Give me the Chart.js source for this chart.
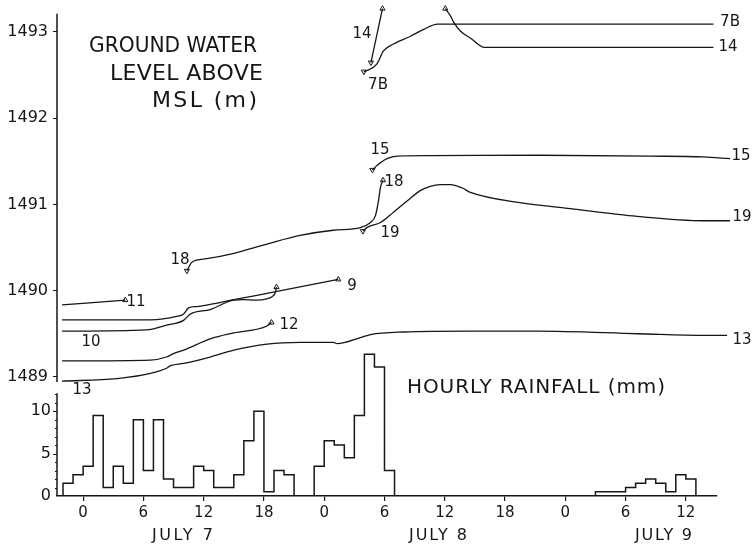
<!DOCTYPE html>
<html>
<head>
<meta charset="utf-8">
<script src="https://cdn.jsdelivr.net/npm/chart.js@4.4.0/dist/chart.umd.min.js"></script>
<style>
  html, body { margin: 0; padding: 0; background: #fff; }
</style>
</head>
<body>
<canvas id="chart" width="756" height="547"></canvas>
<script>
// hours are counted from 00:00 on July 7
const hourTicks = [0, 6, 12, 18, 24, 30, 36, 42, 48, 54, 60];
const hourLabels = ['0', '6', '12', '18', '0', '6', '12', '18', '0', '6', '12'];
const dayLabels = ['JULY 7', 'JULY 8', 'JULY 9'];
const levelTicks = [1489, 1490, 1491, 1492, 1493];
const rainTicks = [0, 5, 10];

// hourly rainfall (mm), first bin starts at hour -2
const rainStart = -2;
const rainfall = [
  1.5, 2.5, 3.5, 9.5, 1.0, 3.5, 1.5, 9.0, 3.0, 9.0, 2.0, 1.0, 1.0, 3.5, 3.0, 1.0, 1.0, 2.5, 6.5, 10.0, 0.5, 3.0, 2.5,
  0, 0,
  3.5, 6.5, 6.0, 4.5, 9.5, 16.7, 15.2, 3.0,
  0, 0, 0, 0, 0, 0, 0, 0, 0, 0, 0, 0, 0, 0, 0, 0, 0, 0, 0, 0,
  0.5, 0.5, 0.5, 1.0, 1.5, 2.0, 1.5, 0.5, 2.5, 2.0
];

// ground water level per well: [hour, m above MSL]
const well7B = [[27.95, 1492.54], [28.6, 1492.57], [29.25, 1492.63], [29.9, 1492.78], [30.9, 1492.86], [32.6, 1492.95], [33.9, 1493.03], [35.3, 1493.09], [62.75, 1493.09]];
const well14a = [[28.65, 1492.645], [29.8, 1493.27]];
const well14b = [[36.05, 1493.27], [36.55, 1493.19], [36.9, 1493.11], [37.55, 1493.01], [38.55, 1492.93], [39.95, 1492.82], [62.75, 1492.82]];
const well15 = [[28.8, 1491.40], [29.25, 1491.45], [30.25, 1491.53], [31.25, 1491.56], [34.6, 1491.565], [45.5, 1491.57], [56.5, 1491.56], [61.75, 1491.55], [64.4, 1491.53]];
const well18 = [[10.33, 1490.23], [10.83, 1490.33], [12.3, 1490.37], [14.9, 1490.43], [18.3, 1490.54], [21.6, 1490.64], [24.9, 1490.70], [27.6, 1490.73], [28.6, 1490.79], [29.1, 1490.87], [29.4, 1491.04], [29.6, 1491.20], [29.85, 1491.28]];
const well19 = [[27.85, 1490.69], [28.25, 1490.73], [29.6, 1490.79], [30.9, 1490.91], [32.25, 1491.04], [33.55, 1491.16], [34.55, 1491.21], [35.55, 1491.23], [36.55, 1491.23], [37.75, 1491.19], [38.55, 1491.14], [43.5, 1491.02], [48.5, 1490.95], [55.15, 1490.86], [61.8, 1490.81], [64.4, 1490.81]];
const well11 = [[-2.1, 1489.835], [4.2, 1489.89]];
const well9 = [[-2.1, 1489.66], [6.7, 1489.66], [9.3, 1489.70], [10.0, 1489.73], [10.5, 1489.80], [11.3, 1489.815], [12.65, 1489.84], [15.0, 1489.895], [19.3, 1489.99], [25.4, 1490.13]];
const well10 = [[-2.1, 1489.53], [6.3, 1489.545], [8.3, 1489.60], [10.0, 1489.655], [10.7, 1489.73], [12.65, 1489.78], [15.0, 1489.89], [16.0, 1489.895], [17.2, 1489.89], [18.3, 1489.905], [18.8, 1489.93], [19.1, 1489.97], [19.25, 1490.04]];
const well12 = [[-2.1, 1489.185], [6.7, 1489.195], [8.3, 1489.23], [9.0, 1489.27], [10.0, 1489.31], [12.65, 1489.44], [15.0, 1489.51], [18.3, 1489.59], [18.75, 1489.63]];
const well13 = [[-2.1, 1488.95], [3.4, 1488.98], [6.7, 1489.04], [8.3, 1489.10], [8.7, 1489.13], [10.0, 1489.155], [12.65, 1489.23], [15.0, 1489.31], [18.3, 1489.38], [21.6, 1489.40], [24.9, 1489.40], [25.3, 1489.385], [27.6, 1489.455], [28.6, 1489.49], [31.9, 1489.52], [38.6, 1489.53], [45.2, 1489.53], [55.2, 1489.50], [61.8, 1489.48], [64.1, 1489.48]];

// start of record (down triangle) and end of record (up triangle)
const last = a => a[a.length - 1];
const marksDown = [well7B[0], well14a[0], well15[0], well18[0], well19[0]];
const marksUp = [last(well14a), well14b[0], last(well18), last(well11), last(well9), last(well10), last(well12)];

const ink = '#161616';
Chart.defaults.font.family = '"DejaVu Sans", sans-serif';
Chart.defaults.color = ink;

function wellSet(label, pts) {
  return {
    type: 'line', label: label, yAxisID: 'y',
    data: pts.map(p => ({ x: p[0], y: p[1] })),
    borderColor: ink, borderWidth: 1.3, pointRadius: 0,
    cubicInterpolationMode: 'monotone', fill: false, clip: false
  };
}

// histogram outline for the rain
const rainPts = [{ x: rainStart, y: 0 }];
rainfall.forEach((v, i) => rainPts.push({ x: rainStart + i, y: v }));
rainPts.push({ x: rainStart + rainfall.length, y: 0 });

const markPts = marksDown.map(p => ({ x: p[0], y: p[1] })).concat(marksUp.map(p => ({ x: p[0], y: p[1] })));
const markRot = marksDown.map(() => 180).concat(marksUp.map(() => 0));

// text drawn in pixels: [text, left x, baseline y, font size, width]
const titles = [
  ['GROUND WATER', 89, 52, 22, 168],
  ['LEVEL ABOVE', 110, 80, 22, 153],
  ['MSL (m)', 152, 107, 22, 105],
  ['HOURLY RAINFALL (mm)', 407, 393, 20, 258]
];
const dayPos = [[152, 61], [409, 58], [635, 57]];
// well labels: [text, centre x, centre y]
const wellTags = [
  ['7B', 378, 85], ['14', 362, 34], ['7B', 730, 22], ['14', 728, 47],
  ['15', 380, 150], ['15', 741, 156], ['18', 394, 182], ['19', 390, 233],
  ['19', 742, 217], ['18', 180, 260], ['11', 136, 302], ['9', 352, 286],
  ['10', 91, 342], ['12', 289, 325], ['13', 82, 390], ['13', 742, 340]
];

function fitText(ctx, text, x, y, size, width) {
  ctx.font = size + 'px "DejaVu Sans"';
  ctx.letterSpacing = '0px';
  const m = ctx.measureText(text).width;
  ctx.save();
  ctx.textAlign = 'left';
  ctx.textBaseline = 'alphabetic';
  if (width > m) {
    ctx.letterSpacing = ((width - m) / Math.max(1, text.length - 1)) + 'px';
    ctx.fillText(text, x, y);
  } else {
    ctx.translate(x, y);
    ctx.scale(width / m, 1);
    ctx.fillText(text, 0, 0);
  }
  ctx.restore();
  ctx.letterSpacing = '0px';
}

const decor = {
  id: 'decor',
  afterDraw(chart) {
    const ctx = chart.ctx;
    const a = chart.chartArea;
    const y = chart.scales.y, rain = chart.scales.rain;
    ctx.save();
    ctx.strokeStyle = ink;
    ctx.fillStyle = ink;
    // split left axis: level part and rain part
    ctx.lineWidth = 1.5;
    ctx.beginPath();
    ctx.moveTo(a.left, y.getPixelForValue(1488.94));
    ctx.lineTo(a.left, y.getPixelForValue(1493.21));
    ctx.moveTo(a.left, rain.getPixelForValue(0));
    ctx.lineTo(a.left, rain.getPixelForValue(12.1));
    ctx.stroke();
    // rain minor ticks every mm
    ctx.lineWidth = 1;
    ctx.beginPath();
    for (let v = 1; v <= 12; v++) {
      const py = Math.round(rain.getPixelForValue(v)) + 0.5;
      ctx.moveTo(a.left - (v % 5 === 0 ? 4 : 2), py);
      ctx.lineTo(a.left, py);
    }
    ctx.stroke();
    ctx.font = '16px "DejaVu Sans"';
    ctx.textAlign = 'right';
    ctx.textBaseline = 'middle';
    rainTicks.forEach(v => ctx.fillText(String(v), a.left - 6, rain.getPixelForValue(v)));
    // titles and day names
    titles.forEach(t => fitText(ctx, t[0], t[1], t[2], t[3], t[4]));
    dayLabels.forEach((d, i) => fitText(ctx, d, dayPos[i][0], 540, 16, dayPos[i][1]));
    // well numbers
    ctx.font = '15px "DejaVu Sans"';
    ctx.textAlign = 'center';
    ctx.textBaseline = 'middle';
    wellTags.forEach(t => ctx.fillText(t[0], t[1], t[2]));
    ctx.restore();
  }
};

new Chart(document.getElementById('chart'), {
  data: {
    datasets: [
      wellSet('7B', well7B), wellSet('14', well14a), wellSet('14', well14b),
      wellSet('15', well15), wellSet('18', well18), wellSet('19', well19),
      wellSet('11', well11), wellSet('9', well9), wellSet('10', well10),
      wellSet('12', well12), wellSet('13', well13),
      {
        type: 'line', label: 'rain', yAxisID: 'rain', data: rainPts,
        stepped: true, borderColor: ink, borderWidth: 1.5, pointRadius: 0, fill: false
      },
      {
        type: 'scatter', label: 'marks', yAxisID: 'y', data: markPts,
        pointStyle: 'triangle', pointRadius: 3, pointRotation: markRot,
        pointBackgroundColor: '#fff', pointBorderColor: ink, pointBorderWidth: 1, clip: false
      }
    ]
  },
  options: {
    responsive: false,
    animation: false,
    devicePixelRatio: 1,
    layout: { padding: { top: 4, right: 39, left: 0, bottom: 0 } },
    plugins: { legend: { display: false }, tooltip: { enabled: false } },
    scales: {
      x: {
        type: 'linear', min: -2.6, max: 63.1,
        afterBuildTicks: s => { s.ticks = hourTicks.map(v => ({ value: v })); },
        afterFit: s => { s.height = 51; s.paddingLeft = 0; s.paddingRight = 0; },
        ticks: {
          autoSkip: false, maxRotation: 0, padding: 3,
          font: { size: 15 }, color: ink,
          callback: (v, i) => hourLabels[i]
        },
        grid: { drawOnChartArea: false, tickLength: 5, color: ink, lineWidth: 1.2 },
        border: { display: true, color: ink, width: 1.5 }
      },
      y: {
        type: 'linear', position: 'left', min: 1487.618, max: 1493.3125,
        afterBuildTicks: s => { s.ticks = levelTicks.map(v => ({ value: v })); },
        afterFit: s => { s.width = 57; s.paddingTop = 0; s.paddingBottom = 0; },
        ticks: { padding: 5, font: { size: 16 }, color: ink, callback: v => String(v) },
        grid: { drawOnChartArea: false, tickLength: 4, color: ink, lineWidth: 1 },
        border: { display: false }
      },
      rain: {
        type: 'linear', axis: 'y', position: 'left', display: false, min: 0, max: 57.88
      }
    }
  },
  plugins: [decor]
});
</script>
</body>
</html>
